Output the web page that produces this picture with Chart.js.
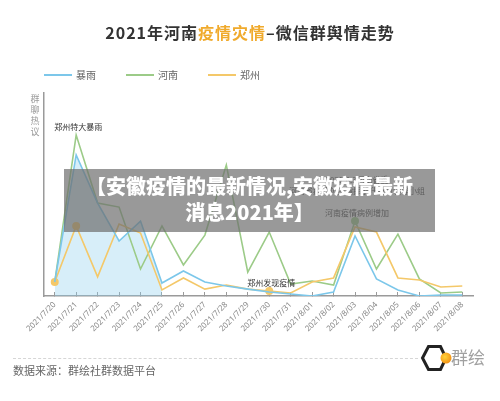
<!DOCTYPE html>
<html>
<head>
<meta charset="utf-8">
<script src="https://cdn.jsdelivr.net/npm/chart.js@4.4.0/dist/chart.umd.min.js"></script>
<style>
  body { margin: 0; background: #fff; font-family: "Noto Sans CJK SC", "Noto Sans", sans-serif; }
  #wrap { position: relative; width: 500px; height: 401px; overflow: hidden; }
  #chart { position: absolute; left: 0; top: 0; }
  #title { position: absolute; left: 0; top: 20px; width: 500px; text-align: center; font-size: 16px; font-weight: 700; color: #333; letter-spacing: 1px; line-height: 24px; }
  #title span { color: #f0aa2c; }
  .lg { position: absolute; top: 69px; height: 12px; font-size: 10px; color: #666; line-height: 12px; white-space: nowrap; }
  .lg i { display: inline-block; width: 28px; height: 2px; vertical-align: middle; margin-right: 4px; margin-top: -2px; }
  #banner { position: absolute; left: 64px; top: 169px; width: 371px; height: 63px; background: rgba(110,110,110,0.7); color: #fff; font-size: 20px; font-weight: 900; text-align: center; line-height: 26px; padding-top: 4px; box-sizing: border-box; white-space: nowrap; }
  #rule { position: absolute; left: 13px; top: 358px; width: 405px; border-top: 1px dashed #d6d6d6; }
  #source { position: absolute; left: 13px; top: 362px; font-size: 11px; color: #666; line-height: 16px; }
  #logo { position: absolute; left: 420px; top: 343px; }
  #logoText { position: absolute; left: 451px; top: 346px; font-size: 17px; color: #a0a0a0; line-height: 22px; }
</style>
</head>
<body>
<div id="wrap">
  <canvas id="chart" width="500" height="401"></canvas>
  <div id="title">2021年河南<span>疫情灾情</span>–微信群舆情走势</div>
  <div id="legend"></div>
  <div id="banner">【安徽疫情的最新情况,安徽疫情最新<br>消息2021年】</div>
  <div id="rule"></div>
  <div id="source">数据来源：群绘社群数据平台</div>
  <svg id="logo" width="32" height="30" viewBox="0 0 32 30">
    <defs>
      <radialGradient id="dot" cx="0.4" cy="0.4" r="0.7">
        <stop offset="0" stop-color="#ffd23a"/>
        <stop offset="1" stop-color="#f08a10"/>
      </radialGradient>
    </defs>
    <polygon points="2.5,15 8.5,3.5 20.5,3.5 26,15 20.5,26.5 8.5,26.5" fill="none" stroke="#222" stroke-width="3"/>
    <circle cx="26" cy="15" r="5.5" fill="url(#dot)"/>
  </svg>
  <div id="logoText">群绘</div>
</div>
<script>
// categories
const dates = ['2021/7/20', '2021/7/21', '2021/7/22', '2021/7/23', '2021/7/24', '2021/7/25', '2021/7/26',
  '2021/7/27', '2021/7/28', '2021/7/29', '2021/7/30', '2021/7/31', '2021/8/01', '2021/8/02', '2021/8/03',
  '2021/8/04', '2021/8/05', '2021/8/06', '2021/8/07', '2021/8/08'];

// 群聊热议 (0-100)
const rainstorm = [6.9, 69.5, 45.8, 27.1, 36.9, 6.4, 12.3, 6.9, 4.9, 3.4, 2.0, 1.0, 0, 2.0, 29.6, 8.4, 3.0, 0, 0.5, 0.5];
const henan = [6.9, 79.3, 45.8, 43.8, 13.3, 34.5, 15.3, 30.0, 64.5, 11.8, 31.5, 5.9, 7.4, 5.4, 36.9, 13.3, 30.5, 8.4, 1.5, 2.0];
const zhengzhou = [6.9, 34.5, 9.4, 35.5, 31.0, 3.0, 8.9, 3.4, 5.4, 3.4, 2.5, 1.5, 6.9, 8.9, 34.0, 31.5, 8.9, 7.9, 4.4, 4.9];

const seriesNames = ['暴雨', '河南', '郑州'];
const seriesColors = ['#7cc7ea', '#9ccb88', '#f4c869'];
const seriesData = [rainstorm, henan, zhengzhou];

// rainstorm shading only over the first days
const rainFillEnd = 5;

// event notes (series index into seriesData)
const notes = [
  { series: 1, index: 1, lines: ['郑州特大暴雨'] },
  { series: 2, index: 10, lines: ['郑州发现疫情'] },
  { series: 1, index: 14, lines: ['2021.8.3河南省委', '河南省疫情防控指挥部升级为领导小组', '', '河南疫情病例增加'] }
];

// highlighted points
const marked = { 1: [14], 2: [0, 1, 10] };

function radii(series) {
  const list = marked[series] || [];
  return dates.map((d, i) => list.includes(i) ? 4 : 0);
}

const notePlugin = {
  id: 'notes',
  afterDatasetsDraw(chart) {
    const c = chart.ctx;
    c.save();
    c.fillStyle = '#333';
    c.font = '8px "Noto Sans CJK SC"';
    c.textAlign = 'center';
    c.textBaseline = 'bottom';
    notes.forEach(n => {
      const pt = chart.getDatasetMeta(n.series).data[n.index];
      let y = pt.y - 4;
      for (let k = n.lines.length - 1; k >= 0; k--) {
        c.fillText(n.lines[k], pt.x + 2, y);
        y -= 11;
      }
    });
    // y axis name, one char per row
    c.fillStyle = '#999';
    c.font = '9px "Noto Sans CJK SC"';
    c.textBaseline = 'middle';
    '群聊热议'.split('').forEach((ch, i) => c.fillText(ch, 35, 99 + i * 11));
    c.restore();
  }
};

const datasets = seriesData.map((v, s) => ({
  label: seriesNames[s],
  data: v,
  borderColor: seriesColors[s],
  backgroundColor: seriesColors[s],
  borderWidth: 1.6,
  pointRadius: radii(s),
  pointBorderWidth: 0,
  tension: 0,
  fill: false,
  order: s === 1 ? 1 : 0
}));
datasets.push({
  label: 'fill',
  data: rainstorm.map((v, i) => i <= rainFillEnd ? v : null),
  borderWidth: 0,
  pointRadius: 0,
  backgroundColor: 'rgba(140,205,238,0.35)',
  fill: 'origin',
  order: 2
});

const chart = new Chart(document.getElementById('chart'), {
  type: 'line',
  data: { labels: dates, datasets: datasets },
  options: {
    responsive: false,
    animation: false,
    layout: { padding: { top: 93, right: 27, bottom: 65, left: 44 } },
    plugins: { legend: { display: false }, tooltip: { enabled: false } },
    scales: {
      x: {
        offset: true,
        grid: { display: true, drawOnChartArea: false, tickLength: -4, color: '#9a9a9a', lineWidth: 1 },
        border: { color: '#9a9a9a', width: 1.5 },
        ticks: { autoSkip: false, minRotation: 45, maxRotation: 45, padding: 8, color: '#888', font: { size: 8, family: 'Noto Sans' } },
        afterFit: s => { s.height = 40; }
      },
      y: {
        min: 0,
        max: 100,
        ticks: { display: false },
        grid: { display: false, drawTicks: false },
        border: { color: '#9a9a9a', width: 1.5 },
        afterFit: s => { s.width = 0; }
      }
    }
  },
  plugins: [notePlugin]
});

// legend
const legend = document.getElementById('legend');
seriesNames.forEach((name, i) => {
  const el = document.createElement('div');
  el.className = 'lg';
  el.style.left = (44 + i * 82) + 'px';
  el.innerHTML = '<i style="background:' + seriesColors[i] + '"></i>' + name;
  legend.appendChild(el);
});
</script>
</body>
</html>
